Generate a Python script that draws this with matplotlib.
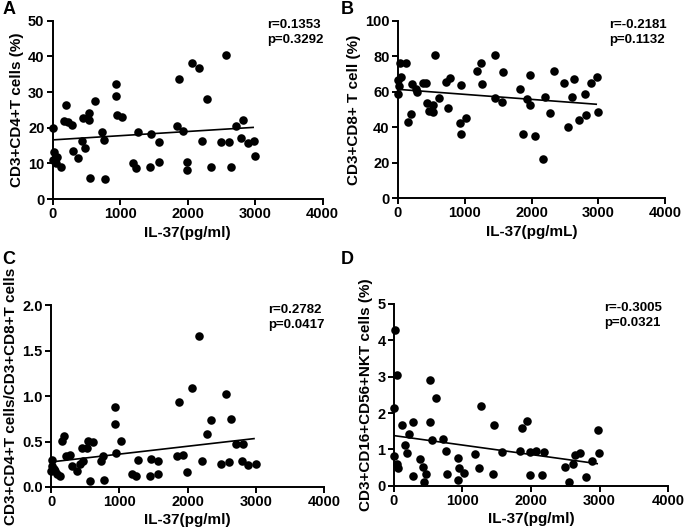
import matplotlib
matplotlib.use('Agg')
import matplotlib.pyplot as plt

plt.rcParams['font.family'] = ['Liberation Sans', 'DejaVu Sans']
plt.rcParams['font.weight'] = 'bold'

# --- DATA ---
# A: CD3+CD4+ T cells (%)
a_x = [0, 24, 59, 0, 49, 123, 197, 163, 232, 286, 296, 380, 434, 444, 474, 533, 543, 557,
       622, 726, 756, 779, 938, 938, 948, 1027, 1195, 1234, 1259, 1446, 1456, 1570, 1580,
       1837, 1871, 1935, 1994, 1985, 2068, 2172, 2207, 2281, 2341, 2489, 2563, 2612, 2637,
       2711, 2794, 2819, 2889, 2987, 2997]
a_y = [20.0, 13.2, 11.9, 11.0, 10.1, 9.0, 26.4, 22.0, 21.6, 20.8, 13.5, 11.5, 16.3, 22.8, 14.4,
       22.1, 24.1, 5.9, 27.5, 18.9, 16.6, 5.6, 32.2, 29.0, 23.6, 23.0, 10.1, 8.7, 18.9, 8.9, 18.3,
       16.0, 10.4, 20.5, 33.7, 19.1, 10.3, 8.1, 38.1, 36.8, 16.4, 28.0, 9.1, 16.0, 40.4, 15.9,
       9.1, 20.5, 17.1, 22.2, 15.7, 16.3, 12.1]
a_fit_x = [0, 2970]
a_fit_y = [16.6, 20.1]

# B: CD3+CD8+ T cell (%)
b_x = [24, 114, 0, 39, 15, 4, 204, 264, 284, 379, 424, 554, 439, 524, 464, 528, 614, 199, 150,
       712, 772, 748, 947, 933, 1012, 937, 1187, 1237, 1252, 1446, 1446, 1571, 1561,
       1980, 1830, 1930, 1980, 1865, 2055, 2170, 2194, 2269, 2334, 2489, 2553, 2604, 2638,
       2703, 2793, 2818, 2893, 2978, 2993]
b_y = [76.0, 76.4, 66.6, 68.5, 63.4, 58.7, 64.5, 61.5, 59.8, 64.9, 64.9, 80.7, 53.5, 52.5, 49.3,
       48.6, 56.3, 47.5, 42.8, 65.7, 67.6, 50.7, 63.6, 42.2, 45.0, 36.4, 71.7, 76.0, 64.2, 80.7,
       56.6, 70.9, 54.1, 69.4, 61.5, 55.9, 52.5, 36.2, 35.2, 22.1, 56.9, 48.2, 71.7, 64.8, 39.8,
       57.2, 67.0, 44.1, 58.7, 46.9, 64.8, 68.5, 48.8]
b_fit_x = [0, 2968]
b_fit_y = [61.3, 52.9]

# C: CD4/CD8 ratio
c_x = [10, 19, 48, 0, 59, 84, 132, 156, 190, 215, 278, 303, 386, 425, 449, 474, 523, 547, 566,
       620, 728, 757, 781, 938, 938, 952, 1026, 1191, 1240, 1270, 1450, 1461, 1572, 1572,
       1841, 1875, 1938, 1988, 2070, 2173, 2208, 2286, 2340, 2491, 2559, 2612, 2637, 2706,
       2817, 2793, 2891, 2999]
c_y = [0.30, 0.23, 0.20, 0.18, 0.17, 0.14, 0.125, 0.51, 0.56, 0.34, 0.35, 0.23, 0.18, 0.25, 0.43,
       0.29, 0.43, 0.51, 0.07, 0.50, 0.29, 0.34, 0.08, 0.88, 0.69, 0.37, 0.51, 0.147, 0.118, 0.30,
       0.118, 0.305, 0.14, 0.29, 0.34, 0.94, 0.35, 0.16, 1.09, 1.66, 0.29, 0.58, 0.74, 0.25, 1.02,
       0.28, 0.75, 0.47, 0.47, 0.29, 0.24, 0.25]
c_fit_x = [0, 2974]
c_fit_y = [0.275, 0.532]

# D: CD3+CD16+CD56+ NKT cells (%)
d_x = [10, 44, 0, 0, 48, 58, 121, 156, 194, 214, 282, 277, 374, 428, 471, 437, 530, 525, 554,
       617, 719, 754, 773, 933, 943, 933, 1021, 1186, 1235, 1264, 1454, 1448, 1575,
       1837, 1862, 1935, 1983, 1983, 2066, 2192, 2163, 2494, 2557, 2606, 2639, 2713, 2796,
       2883, 2979, 2990]
d_y = [4.27, 3.03, 2.14, 0.81, 0.61, 0.50, 1.66, 1.12, 0.91, 1.43, 1.75, 0.27, 0.74, 0.52, 0.32,
       0.11, 2.90, 1.75, 1.27, 2.40, 1.30, 0.97, 0.32, 0.76, 0.48, 0.16, 0.34, 0.87, 0.50, 2.18,
       1.66, 0.33, 0.93, 0.96, 1.59, 1.77, 0.93, 0.31, 0.96, 0.92, 0.31, 0.52, 0.11, 0.61, 0.86,
       0.90, 0.23, 0.69, 1.53, 0.90]
d_fit_x = [0, 2965]
d_fit_y = [1.38, 0.61]

panels = [
    # letter, axes rect, x, y, fit x, fit y, ylim, yticks, ylabel, xlabel, stats, stats x
    ('A', [0.077, 0.625, 0.394, 0.336], a_x, a_y, a_fit_x, a_fit_y, 50, [0, 10, 20, 30, 40, 50],
     'CD3+CD4+T cells (%)', 'IL-37(pg/ml)', 'r=0.1353\np=0.3292', 0.795),
    ('B', [0.581, 0.627, 0.390, 0.334], b_x, b_y, b_fit_x, b_fit_y, 100, [0, 20, 40, 60, 80, 100],
     'CD3+CD8+ T cell (%)', 'IL-37(pg/mL)', 'r=-0.2181\np=0.1132', 0.79),
    ('C', [0.0745, 0.083, 0.3985, 0.342], c_x, c_y, c_fit_x, c_fit_y, 2.0, [0.0, 0.5, 1.0, 1.5, 2.0],
     'CD3+CD4+T cells/CD3+CD8+T cells', 'IL-37(pg/ml)', 'r=0.2782\np=0.0417', 0.795),
    ('D', [0.575, 0.085, 0.4004, 0.343], d_x, d_y, d_fit_x, d_fit_y, 5, [0, 1, 2, 3, 4, 5],
     'CD3+CD16+CD56+NKT cells (%)', 'IL-37(pg/ml)', 'r=-0.3005\np=0.0321', 0.765),
]

letter_pos = {'A': (0.004, 0.998), 'B': (0.497, 0.998), 'C': (0.004, 0.528), 'D': (0.497, 0.528)}

fig = plt.figure(figsize=(6.85, 5.31), dpi=100)

for letter, rect, xs, ys, fx, fy, ymax, yticks, ylab, xlab, stats, sx in panels:
    ax = fig.add_axes(rect)
    ax.scatter(xs, ys, s=38, color='black', zorder=3, clip_on=False, linewidths=0)
    ax.plot(fx, fy, color='black', lw=1.2, zorder=2)
    ax.set_xlim(0, 4000)
    ax.set_ylim(0, ymax)
    ax.set_xticks([0, 1000, 2000, 3000, 4000])
    ax.set_yticks(yticks)
    if ymax == 2.0:
        ax.set_yticklabels([f'{t:.1f}' for t in yticks])
    for side in ['top', 'right']:
        ax.spines[side].set_visible(False)
    for side in ['left', 'bottom']:
        ax.spines[side].set_linewidth(1.4)
    ax.tick_params(direction='out', length=4, width=1.4, labelsize=10.5, pad=2)
    ax.set_ylabel(ylab, fontsize=11, fontweight='bold', labelpad=3)
    ax.set_xlabel(xlab, fontsize=11, fontweight='bold', labelpad=3)
    ax.text(sx, 1.01, stats, transform=ax.transAxes, ha='left', va='top',
            fontsize=9.5, fontweight='bold', linespacing=1.35)
    lx, ly = letter_pos[letter]
    fig.text(lx, ly, letter, fontsize=13, fontweight='bold', ha='left', va='top')

fig.savefig('out.png', dpi=100)
